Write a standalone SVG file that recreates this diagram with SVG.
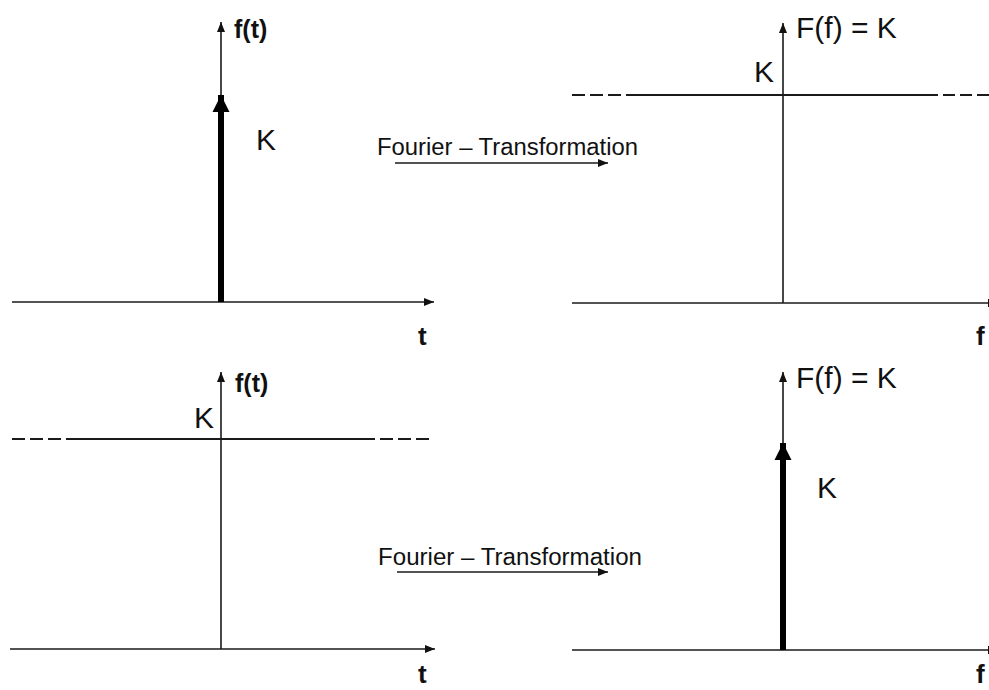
<svg xmlns="http://www.w3.org/2000/svg" width="989" height="690" viewBox="0 0 989 690">
<style>
.ax{stroke:#1a1a1a;stroke-width:1.6;fill:none}
.imp{stroke:#000;stroke-width:6;fill:none}
.dash{stroke:#1a1a1a;stroke-width:1.8;fill:none}
.lab{font-family:"Liberation Sans",Arial,sans-serif;fill:#111}
.b{font-weight:bold}
</style>
<defs>
<marker id="ah" viewBox="0 0 10 10" refX="10" refY="5" markerWidth="10" markerHeight="10" markerUnits="userSpaceOnUse" orient="auto">
<path d="M0,1 L10,5 L0,9 Z" fill="#111"/>
</marker>
<marker id="ahb" viewBox="0 0 10 10" refX="10" refY="5" markerWidth="17" markerHeight="20" markerUnits="userSpaceOnUse" orient="auto">
<path d="M0,0 L10,5 L0,10 Z" fill="#000"/>
</marker>
</defs>
<rect width="989" height="690" fill="#fff"/>

<g id="panel-top-left">
<line class="ax" x1="12" y1="302" x2="434" y2="302" marker-end="url(#ah)"/>
<line class="ax" x1="221" y1="302" x2="221" y2="22" marker-end="url(#ah)"/>
<line class="imp" x1="221" y1="302" x2="221" y2="95" marker-end="url(#ahb)"/>
<text class="lab b" x="234" y="38" font-size="25">f(t)</text>
<text class="lab" x="256" y="150" font-size="30">K</text>
<text class="lab b" x="418" y="345" font-size="26">t</text>
</g>

<g id="panel-top-right">
<line class="ax" x1="572" y1="303" x2="989" y2="303"/>
<path d="M989,299 L989,307" stroke="#111" stroke-width="2"/>
<line class="ax" x1="783" y1="303" x2="783" y2="23" marker-end="url(#ah)"/>
<line class="dash" x1="572" y1="95" x2="633" y2="95" stroke-dasharray="13,5"/>
<line class="dash" x1="633" y1="95" x2="938" y2="95"/>
<line class="dash" x1="943" y1="95" x2="989" y2="95" stroke-dasharray="12,5"/>
<text class="lab" x="796" y="38" font-size="30">F(f) = K</text>
<text class="lab" x="754" y="82" font-size="30">K</text>
<text class="lab b" x="976" y="345" font-size="26">f</text>
</g>

<g id="panel-bottom-left">
<line class="ax" x1="10" y1="649" x2="435" y2="649" marker-end="url(#ah)"/>
<line class="ax" x1="221" y1="649" x2="221" y2="372" marker-end="url(#ah)"/>
<line class="dash" x1="12" y1="439" x2="68" y2="439" stroke-dasharray="13,5"/>
<line class="dash" x1="68" y1="439" x2="375" y2="439"/>
<line class="dash" x1="380" y1="439" x2="434" y2="439" stroke-dasharray="13,5"/>
<text class="lab b" x="235" y="392" font-size="25">f(t)</text>
<text class="lab" x="194" y="428" font-size="30">K</text>
<text class="lab b" x="418" y="683" font-size="26">t</text>
</g>

<g id="panel-bottom-right">
<line class="ax" x1="572" y1="650" x2="989" y2="650"/>
<path d="M989,646 L989,654" stroke="#111" stroke-width="2"/>
<line class="ax" x1="783" y1="650" x2="783" y2="372" marker-end="url(#ah)"/>
<line class="imp" x1="783" y1="650" x2="783" y2="443" marker-end="url(#ahb)"/>
<text class="lab" x="796" y="388" font-size="30">F(f) = K</text>
<text class="lab" x="817" y="498" font-size="30">K</text>
<text class="lab b" x="976" y="683" font-size="26">f</text>
</g>

<g id="connectors">
<text class="lab" x="377" y="155" font-size="23" textLength="261" lengthAdjust="spacingAndGlyphs">Fourier – Transformation</text>
<line class="ax" x1="395" y1="163" x2="608" y2="163" marker-end="url(#ah)"/>
<text class="lab" x="378" y="565" font-size="23" textLength="264" lengthAdjust="spacingAndGlyphs">Fourier – Transformation</text>
<line class="ax" x1="397" y1="572" x2="608" y2="572" marker-end="url(#ah)"/>
</g>
</svg>
